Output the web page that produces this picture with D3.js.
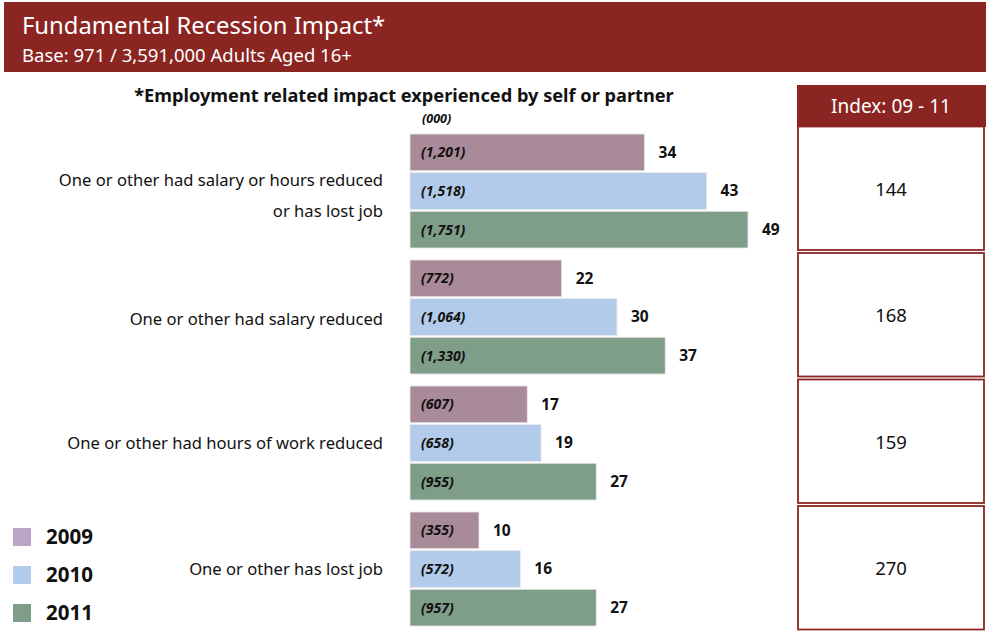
<!DOCTYPE html>
<html>
<head>
<meta charset="utf-8">
<script src="https://cdn.jsdelivr.net/npm/d3@7/dist/d3.min.js"></script>
<style>
  html, body { margin: 0; padding: 0; background: #fff; }
  svg { display: block; font-family: "Noto Sans", "Open Sans", sans-serif; }
</style>
</head>
<body>
<svg id="chart" width="986" height="632"></svg>
<script>
// Employment-related recession impact, % of adults (with thousands in brackets)
const categories = [
  ["One or other had salary or hours reduced", "or has lost job"],
  ["One or other had salary reduced"],
  ["One or other had hours of work reduced"],
  ["One or other has lost job"]
];
const years = ["2009", "2010", "2011"];
const pct2009 = [34, 22, 17, 10];
const pct2010 = [43, 30, 19, 16];
const pct2011 = [49, 37, 27, 27];
const abs2009 = ["(1,201)", "(772)", "(607)", "(355)"];
const abs2010 = ["(1,518)", "(1,064)", "(658)", "(572)"];
const abs2011 = ["(1,751)", "(1,330)", "(955)", "(957)"];
const indexValues = [144, 168, 159, 270];

const barColors = ["#A98A98", "#B2CBEA", "#7F9E8A"];
const legendColors = ["#BBA6C5", "#B2CBEA", "#7F9E8A"];
const red = "#8B2522";

const svg = d3.select("#chart");

// Header band
svg.append("rect").attr("x", 4).attr("y", 2).attr("width", 982).attr("height", 70).attr("fill", red);
svg.append("text").attr("x", 22).attr("y", 34).attr("fill", "#fff")
  .attr("font-size", 23.8).text("Fundamental Recession Impact*");
svg.append("text").attr("x", 22).attr("y", 62).attr("fill", "#fff")
  .attr("font-size", 18.5).text("Base: 971 / 3,591,000 Adults Aged 16+");

// Chart heading
svg.append("text").attr("x", 404).attr("y", 102).attr("text-anchor", "middle")
  .attr("font-size", 18.2).attr("font-weight", "bold").attr("fill", "#111")
  .text("*Employment related impact experienced by self or partner");
svg.append("text").attr("x", 422).attr("y", 123)
  .attr("font-size", 12.5).attr("font-weight", "bold").attr("font-style", "italic").attr("fill", "#111")
  .text("(000)");

// Scales
const x = d3.scaleLinear().domain([0, 49]).range([410, 748]);
const y0 = d3.scaleBand().domain(d3.range(categories.length)).range([134, 638]).paddingInner(0).paddingOuter(0);
const y1 = d3.scaleBand().domain(years).range([0, 114]).paddingInner(0.05);

const series = [
  { year: "2009", pct: pct2009, abs: abs2009 },
  { year: "2010", pct: pct2010, abs: abs2010 },
  { year: "2011", pct: pct2011, abs: abs2011 }
];

const groups = svg.selectAll("g.grp").data(categories).join("g")
  .attr("class", "grp")
  .attr("transform", (d, i) => `translate(0,${y0(i)})`);

groups.each(function(cat, i) {
  const g = d3.select(this);
  series.forEach((s, si) => {
    const yy = y1(s.year), h = y1.bandwidth();
    g.append("rect")
      .attr("x", x(0)).attr("y", yy)
      .attr("width", x(s.pct[i]) - x(0)).attr("height", h)
      .attr("fill", barColors[si])
      .attr("stroke", "#e8e8e8").attr("stroke-width", 0.8);
    g.append("text")
      .attr("x", x(0) + 11).attr("y", yy + h / 2).attr("dy", "0.35em")
      .attr("font-size", 14).attr("font-weight", "bold").attr("font-style", "italic").attr("fill", "#111")
      .text(s.abs[i]);
    g.append("text")
      .attr("x", x(s.pct[i]) + 14).attr("y", yy + h / 2).attr("dy", "0.35em")
      .attr("font-size", 15.5).attr("font-weight", "bold").attr("fill", "#111")
      .text(s.pct[i]);
  });
  // Category label
  const lines = cat;
  const lh = 31;
  const mid = lines.length > 1 ? 62 : 57 + (i === 1 ? 2 : 0);
  lines.forEach((ln, li) => {
    g.append("text")
      .attr("x", 383).attr("y", mid + (li - (lines.length - 1) / 2) * lh).attr("dy", "0.35em")
      .attr("text-anchor", "end").attr("font-size", 16.6).attr("fill", "#111")
      .text(ln);
  });
});

// Index table
const tx = 797, tw = 188;
svg.append("rect").attr("x", tx).attr("y", 85).attr("width", 189).attr("height", 42).attr("fill", red);
svg.append("text").attr("x", tx + tw / 2).attr("y", 106).attr("dy", "0.35em")
  .attr("text-anchor", "middle").attr("font-size", 19).attr("fill", "#fff").text("Index: 09 - 11");

const boxY = d3.scaleBand().domain(d3.range(indexValues.length)).range([126, 632]).paddingInner(0);
indexValues.forEach((v, i) => {
  svg.append("rect").attr("x", tx + 1).attr("y", boxY(i) + 0.5)
    .attr("width", tw - 2).attr("height", boxY.bandwidth() - 3)
    .attr("fill", "#fff").attr("stroke", red).attr("stroke-width", 1.8);
  svg.append("text").attr("x", tx + tw / 2).attr("y", boxY(i) + boxY.bandwidth() / 2).attr("dy", "0.35em")
    .attr("text-anchor", "middle").attr("font-size", 18.5).attr("fill", "#111").text(v);
});

// Legend
years.forEach((yr, i) => {
  const ly = 528 + i * 38;
  svg.append("rect").attr("x", 13).attr("y", ly).attr("width", 18).attr("height", 18).attr("fill", legendColors[i]);
  svg.append("text").attr("x", 46).attr("y", ly + 9).attr("dy", "0.35em")
    .attr("font-size", 20.5).attr("font-weight", "bold").attr("fill", "#111").text(yr);
});
</script>
</body>
</html>
